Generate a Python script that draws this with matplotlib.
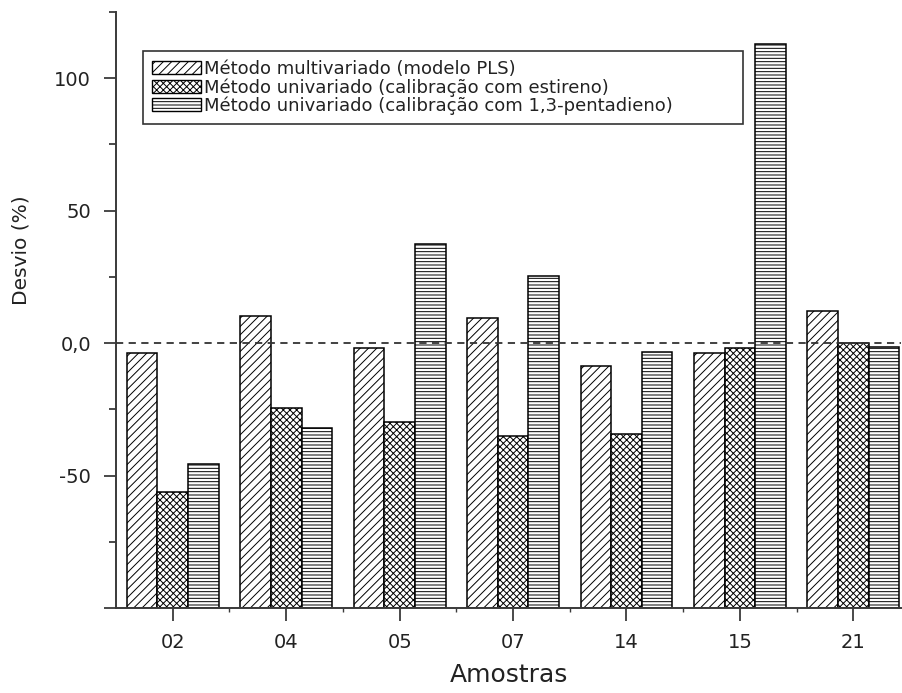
#!/usr/bin/env python3
# -*- coding: utf-8 -*-
"""Desvio (%) por amostra, três métodos, barras hachuradas em preto e branco."""
import numpy as np
import matplotlib
matplotlib.use("Agg")
import matplotlib.pyplot as plt
from matplotlib.patches import Patch
from matplotlib.ticker import FixedLocator, FixedFormatter

amostras = ["02", "04", "05", "07", "14", "15", "21"]
pls = [-3.9, 10.1, -2.0, 9.4, -8.6, -3.9, 12.0]
estireno = [-56.3, -24.6, -29.8, -35.1, -34.5, -2.0, 0.1]
pentadieno = [-45.6, -31.9, 37.5, 25.2, -3.3, 112.9, -1.6]

series_labels = [
    "Método multivariado (modelo PLS)",
    "Método univariado (calibração com estireno)",
    "Método univariado (calibração com 1,3-pentadieno)",
]
ytick_values = [-100, -50, 0, 50, 100]
ytick_labels = ["", "-50", "0,0", "50", "100"]
yminor_values = [-75, -25, 25, 75, 125]

text_color = "#222222"
axis_color = "#3a3a3a"

plt.rcParams.update({
    "font.family": "DejaVu Sans",
    "hatch.linewidth": 0.7,
    "hatch.color": "black",
})

fig = plt.figure(figsize=(9.03, 6.93), dpi=100)
ax = fig.add_axes([0.1285, 0.1227, 0.8693, 0.860])

ymin = -100
x = np.arange(len(amostras))
w = 0.27
hatches = ["////", "xxxxx", "-----"]
data = [pls, estireno, pentadieno]

# bars rise from the bottom of the axis, not from zero
for i, (vals, h) in enumerate(zip(data, hatches)):
    vals = np.asarray(vals, dtype=float)
    ax.bar(x + (i - 1) * w, vals - ymin, bottom=ymin, width=w,
           facecolor="white", edgecolor="black", linewidth=1.1,
           hatch=h, zorder=2)

ax.axhline(0, color="#333333", linestyle=(0, (4, 3)), linewidth=1.3, zorder=3)

ax.set_xlim(-0.5, 6.42)
ax.set_ylim(-100, 125)

ax.yaxis.set_major_locator(FixedLocator(ytick_values))
ax.yaxis.set_major_formatter(FixedFormatter(ytick_labels))
ax.yaxis.set_minor_locator(FixedLocator(yminor_values))
ax.set_xticks(x)
ax.set_xticklabels(amostras)
ax.set_xticks(x[:-1] + 0.5, minor=True)

ax.tick_params(axis="both", which="major", direction="out", colors=axis_color,
               labelcolor=text_color, labelsize=14, width=1.3)
ax.tick_params(axis="y", which="major", length=9, pad=9)
ax.tick_params(axis="y", which="minor", direction="out", length=5, width=1.3,
               colors=axis_color)
ax.tick_params(axis="x", which="major", length=9, pad=9)
ax.tick_params(axis="x", which="minor", direction="out", length=3, width=1.0,
               colors=axis_color)

for side in ["top", "right"]:
    ax.spines[side].set_visible(False)
for side in ["left", "bottom"]:
    ax.spines[side].set_color(axis_color)
    ax.spines[side].set_linewidth(1.4)

ax.set_xlabel("Amostras", fontsize=18, color=text_color, labelpad=8)
ax.set_ylabel("Desvio (%)", fontsize=14.5, color=text_color)
ax.yaxis.set_label_coords(-0.1096, 0.60)

handles = [Patch(facecolor="white", edgecolor="black", hatch=h, linewidth=1.0)
           for h in hatches]
leg = ax.legend(handles, series_labels, loc="upper left",
                bbox_to_anchor=(0.0344, 0.8255, 0.7643, 0.109), mode="expand",
                borderaxespad=0, fontsize=13, frameon=True, fancybox=False,
                framealpha=1, edgecolor="#333333", handlelength=2.7,
                handleheight=0.75, handletextpad=0.15, labelspacing=0.0,
                borderpad=0.5)
leg.get_frame().set_linewidth(1.2)
for t in leg.get_texts():
    t.set_color(text_color)

fig.savefig("out.png", dpi=100)
